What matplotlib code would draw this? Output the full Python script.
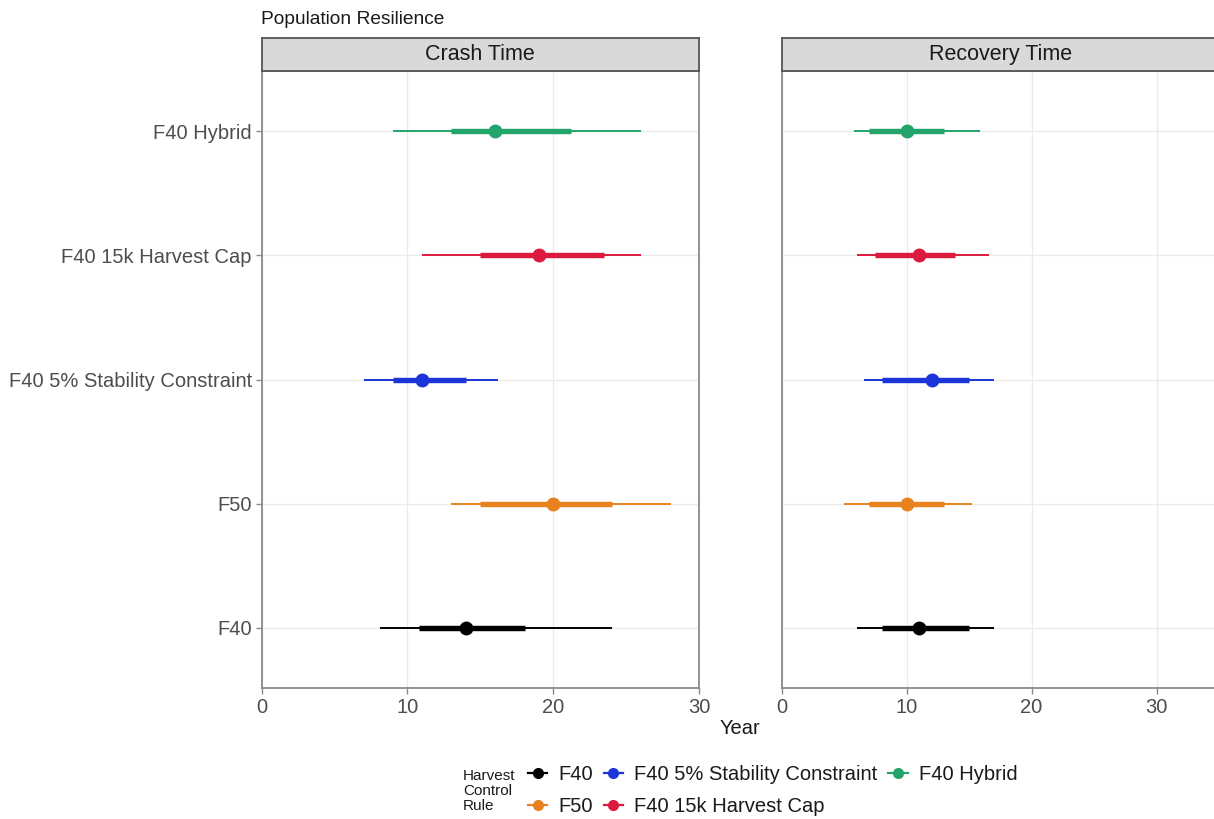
import matplotlib
matplotlib.use("Agg")
import matplotlib.pyplot as plt
from matplotlib.lines import Line2D

plt.rcParams['font.family'] = ['Liberation Sans', 'DejaVu Sans']

# ---- data ----
rules = ["F40", "F50", "F40 5% Stability Constraint", "F40 15k Harvest Cap", "F40 Hybrid"]
colors = ["#000000", "#E8821E", "#1A35D8", "#DC1A3E", "#23A46A"]
panels = ["Crash Time", "Recovery Time"]

crash_median = [14, 20, 11, 19, 16]
crash_lo50 = [10.8, 15, 9, 15, 13]
crash_hi50 = [18.1, 24, 14, 23.5, 21.2]
crash_lo90 = [8.1, 13, 7, 11, 9]
crash_hi90 = [24, 28.1, 16.2, 26, 26]

rec_median = [11, 10, 12, 11, 10]
rec_lo50 = [8, 7, 8, 7.5, 7]
rec_hi50 = [15, 13, 15, 13.9, 13]
rec_lo90 = [6, 5, 6.6, 6, 5.8]
rec_hi90 = [17, 15.2, 17, 16.6, 15.9]

xticks = [0, 10, 20, 30]
xlims = [(0, 30), (0, 35)]

W, H = 1214, 819
fig = plt.figure(figsize=(W / 100, H / 100), dpi=100)

def fx(px):
    return px / W

def fy(py):
    return 1 - py / H

panel_left = [261.5, 781.6]
panel_w = 437.5
panel_top, panel_bot = 71, 688
strip_top = 38

data = [
    (crash_median, crash_lo50, crash_hi50, crash_lo90, crash_hi90),
    (rec_median, rec_lo50, rec_hi50, rec_lo90, rec_hi90),
]

grid_c = "#EBEBEB"
border_c = "#8A8A8A"
text_c = "#4D4D4D"

for k in range(2):
    ax = fig.add_axes([fx(panel_left[k]), fy(panel_bot), panel_w / W, (panel_bot - panel_top) / H])
    ax.set_xlim(*xlims[k])
    ax.set_ylim(0.517, 5.483)
    ax.set_xticks(xticks)
    ax.set_yticks(range(1, len(rules) + 1))
    ax.grid(True, color=grid_c, lw=1.0, zorder=0)
    ax.set_axisbelow(True)
    ax.tick_params(axis='both', colors=border_c, labelcolor=text_c, labelsize=14.5,
                   length=4, width=1.0, direction='out', pad=3)
    if k == 0:
        ax.set_yticklabels(rules)
    else:
        ax.set_yticklabels([])
        ax.tick_params(axis='y', length=0)
    for s in ax.spines.values():
        s.set_color(border_c)
        s.set_linewidth(1.3)
    med, lo50, hi50, lo90, hi90 = data[k]
    for i in range(len(rules)):
        y = i + 1
        ax.plot([lo90[i], hi90[i]], [y, y], color=colors[i], lw=1.4, solid_capstyle='butt', zorder=3)
        ax.plot([lo50[i], hi50[i]], [y, y], color=colors[i], lw=3.9, solid_capstyle='butt', zorder=4)
        ax.plot([med[i]], [y], 'o', color=colors[i], ms=9, zorder=5)

    # strip
    sax = fig.add_axes([fx(panel_left[k]), fy(panel_top), panel_w / W, (panel_top - strip_top) / H])
    sax.set_xticks([]); sax.set_yticks([])
    sax.set_facecolor("#D9D9D9")
    for s in sax.spines.values():
        s.set_color("#555555")
        s.set_linewidth(1.3)
    sax.text(0.5, 0.5, panels[k], transform=sax.transAxes, ha='center', va='center',
             fontsize=15.5, color="#1A1A1A")

fig.text(fx(261), fy(19), "Population Resilience", ha='left', va='center', fontsize=13.8, color="#1A1A1A")
fig.text(fx(740), fy(728), "Year", ha='center', va='center', fontsize=14.5, color="#1A1A1A")

# legend
fig.text(fx(463), fy(791), "Harvest\nControl\nRule", ha='left', va='center', fontsize=11,
         color="#1A1A1A", linespacing=1.12)
handles = [Line2D([0], [0], color=c, lw=1.6, marker='o', ms=7) for c in colors]
leg = fig.legend(handles, rules, ncol=3, loc='center left', bbox_to_anchor=(fx(528), fy(790.5)),
                 frameon=False, fontsize=14.5, handlelength=0.95, handletextpad=0.55,
                 columnspacing=0.55, labelspacing=0.68, borderpad=0, borderaxespad=0)
for t in leg.get_texts():
    t.set_color("#1A1A1A")

fig.savefig("out.png", dpi=100)
